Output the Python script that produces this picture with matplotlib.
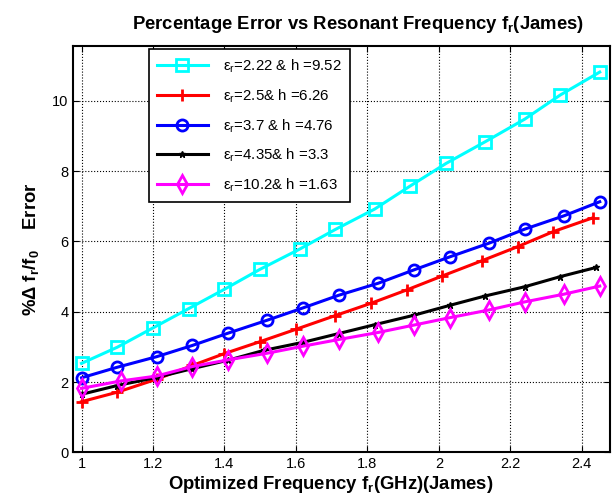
import matplotlib.pyplot as plt
from matplotlib.ticker import FormatStrFormatter

plt.rcParams['font.family'] = ['Liberation Sans', 'DejaVu Sans']
plt.rcParams['mathtext.fontset'] = 'custom'
plt.rcParams['mathtext.rm'] = 'Liberation Sans'
plt.rcParams['mathtext.bf'] = 'Liberation Sans:bold'

# data
cyan_x = [1.00, 1.10, 1.20, 1.30, 1.40, 1.50, 1.61, 1.71, 1.82, 1.92, 2.02, 2.13, 2.24, 2.34, 2.45]
cyan_y = [2.53, 2.99, 3.54, 4.09, 4.64, 5.21, 5.78, 6.34, 6.92, 7.58, 8.22, 8.84, 9.48, 10.17, 10.82]
red_x = [1.00, 1.10, 1.21, 1.31, 1.40, 1.50, 1.60, 1.71, 1.81, 1.91, 2.01, 2.12, 2.22, 2.32, 2.43]
red_y = [1.44, 1.71, 2.08, 2.47, 2.81, 3.15, 3.50, 3.89, 4.24, 4.62, 5.02, 5.45, 5.85, 6.28, 6.67]
blue_x = [1.00, 1.10, 1.21, 1.31, 1.41, 1.52, 1.62, 1.72, 1.83, 1.93, 2.03, 2.14, 2.24, 2.35, 2.45]
blue_y = [2.12, 2.42, 2.72, 3.04, 3.39, 3.76, 4.11, 4.47, 4.81, 5.19, 5.56, 5.95, 6.35, 6.73, 7.13]
black_x = [1.00, 1.10, 1.21, 1.31, 1.41, 1.51, 1.62, 1.72, 1.82, 1.93, 2.03, 2.13, 2.24, 2.34, 2.44]
black_y = [1.65, 1.90, 2.13, 2.38, 2.62, 2.90, 3.13, 3.38, 3.63, 3.90, 4.18, 4.45, 4.71, 5.00, 5.26]
mag_x = [1.00, 1.11, 1.21, 1.31, 1.41, 1.52, 1.62, 1.72, 1.83, 1.93, 2.03, 2.14, 2.24, 2.35, 2.45]
mag_y = [1.82, 2.03, 2.17, 2.44, 2.63, 2.82, 3.02, 3.21, 3.41, 3.62, 3.83, 4.05, 4.28, 4.50, 4.73]

labels = ['ε$_\\mathregular{r}$=2.22 & h =9.52',
          'ε$_\\mathregular{r}$=2.5& h =6.26',
          'ε$_\\mathregular{r}$=3.7 & h =4.76',
          'ε$_\\mathregular{r}$=4.35& h =3.3',
          'ε$_\\mathregular{r}$=10.2& h =1.63']

fig = plt.figure(figsize=(6.16, 5.04), dpi=100)
ax = fig.add_axes([0.119, 0.1026, 0.872, 0.806])

lw = 2.2
ax.plot(cyan_x, cyan_y, color='cyan', lw=lw, marker='s', ms=8, mfc='none', mew=2, label=labels[0])
ax.plot(red_x, red_y, color='red', lw=lw, marker='+', ms=9, mew=2, label=labels[1])
ax.plot(blue_x, blue_y, color='blue', lw=lw, marker='o', ms=8, mfc='none', mew=2, label=labels[2])
ax.plot(black_x, black_y, color='black', lw=lw, marker='*', ms=5, label=labels[3])
ax.plot(mag_x, mag_y, color='magenta', lw=lw, marker='d', ms=9, mfc='none', mew=2, label=labels[4])

ax.set_xlim(0.977, 2.48)
ax.set_ylim(0, 11.56)
ax.set_xticks([1, 1.2, 1.4, 1.6, 1.8, 2, 2.2, 2.4])
ax.set_yticks([0, 2, 4, 6, 8, 10])
ax.xaxis.set_major_formatter(FormatStrFormatter('%g'))
ax.tick_params(direction='in', top=True, right=True, labelsize=10.5, length=4)
ax.grid(True, color='black', linestyle=':', linewidth=0.8)
for s in ax.spines.values():
    s.set_linewidth(1.5)

ax.set_title('Percentage Error vs Resonant Frequency f$_\\mathbf{r}$(James)',
             fontsize=13.3, fontweight='bold', pad=12, x=0.53)
ax.set_xlabel('Optimized Frequency f$_\\mathbf{r}$(GHz)(James)', fontsize=13.3,
              fontweight='bold', labelpad=2, x=0.48)
ax.set_ylabel('%Δ f$_\\mathbf{r}$/f$_\\mathbf{0}$    Error', fontsize=13.3,
              fontweight='bold', labelpad=8)

leg = ax.legend(loc='upper left', bbox_to_anchor=(0.14, 0.992), borderaxespad=0,
                fontsize=10.8, handlelength=3.4, handletextpad=1.0, fancybox=False,
                framealpha=1, edgecolor='black', labelspacing=0.8, borderpad=0.55)
leg.get_frame().set_linewidth(1.2)

fig.savefig('out.png', dpi=100)
